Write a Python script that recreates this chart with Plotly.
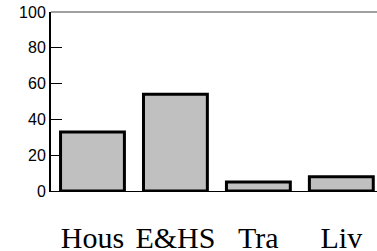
import plotly.graph_objects as go

categories = ["Hous", "E&HS", "Tra", "Liv"]
values = [33, 54, 5, 8]
y_ticks = [0, 20, 40, 60, 80, 100]

fig = go.Figure()
fig.add_trace(go.Bar(
    x=list(range(len(categories))), y=values,
    marker=dict(color="#c0c0c0", line=dict(color="black", width=3)),
    width=0.77,
))

fig.update_layout(
    width=377, height=251,
    margin=dict(l=51, r=0, t=12, b=60, autoexpand=False),
    paper_bgcolor="white", plot_bgcolor="white",
    showlegend=False,
    shapes=[dict(type="line", xref="paper", yref="paper", x0=0, x1=1, y0=1, y1=1,
                 line=dict(color="#808080", width=1.5))],
)
fig.update_xaxes(
    tickmode="array", tickvals=list(range(len(categories))), ticktext=categories,
    range=[-0.5, 3.43], showline=True, linecolor="black", linewidth=1,
    ticks="", showgrid=False, zeroline=False, automargin=False,
    tickfont=dict(family="Liberation Serif", size=30, color="black"),
    ticklabelstandoff=20,
)
fig.update_yaxes(
    range=[0, 100], tickvals=y_ticks, showline=True, linecolor="black", linewidth=2,
    ticks="inside", ticklen=11, tickcolor="black", tickwidth=1,
    showgrid=False, zeroline=False, automargin=False,
    tickfont=dict(family="Liberation Sans", size=16, color="black"),
)

fig.write_html("out.html", config={"displayModeBar": False, "staticPlot": True},
               post_script="document.body.style.margin='0';document.body.style.overflow='hidden';")
